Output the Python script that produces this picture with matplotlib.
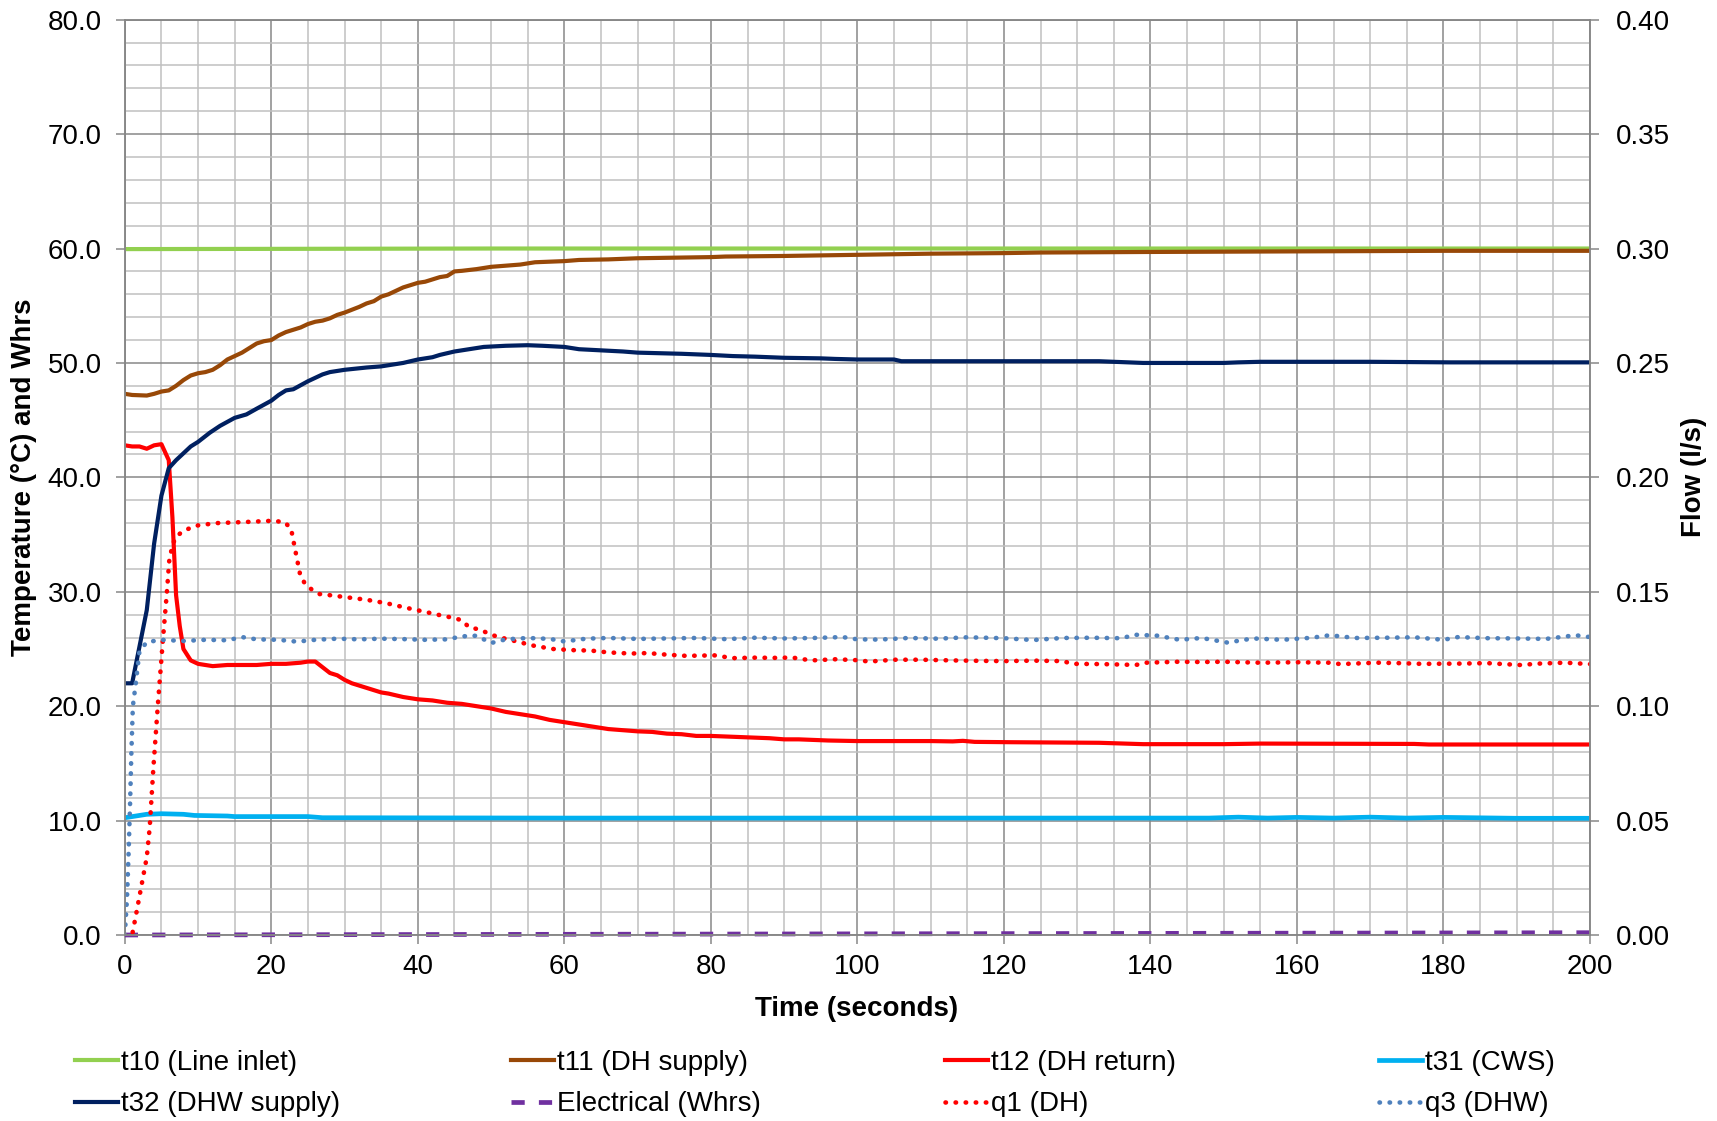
import matplotlib
matplotlib.use("Agg")
import matplotlib.pyplot as plt
from matplotlib.ticker import MultipleLocator, FormatStrFormatter

plt.rcParams['font.family'] = ['Liberation Sans', 'DejaVu Sans']

# ---------------- data ----------------
t10_time = [0, 50, 100, 150, 200]
t10_vals = [59.95, 60.0, 60.0, 60.0, 60.0]

t11_time = [0, 1, 3, 4, 5, 6, 7, 8, 9, 10, 11, 12, 13, 14, 15, 16, 17, 18, 19, 20,
            21, 22, 23, 24, 25, 26, 27, 28, 29, 30, 32, 33, 34, 35, 36, 37, 38, 39, 40,
            41, 42, 43, 44, 45, 46, 48, 50, 52, 54, 56, 58, 60, 62, 66, 70, 75, 80, 82,
            90, 100, 105, 110, 120, 125, 140, 160, 180, 200]
t11_vals = [47.3, 47.2, 47.15, 47.3, 47.5, 47.6, 48.0, 48.5, 48.9, 49.1, 49.2, 49.4, 49.8,
            50.3, 50.6, 50.9, 51.3, 51.7, 51.9, 52.0, 52.4, 52.7, 52.9, 53.1, 53.4, 53.6,
            53.7, 53.9, 54.2, 54.4, 54.9, 55.2, 55.4, 55.8, 56.0, 56.3, 56.6, 56.8, 57.0,
            57.1, 57.3, 57.5, 57.6, 58.0, 58.05, 58.2, 58.4, 58.5, 58.6, 58.8, 58.85, 58.9,
            59.0, 59.05, 59.15, 59.2, 59.25, 59.3, 59.35, 59.45, 59.5, 59.55, 59.6, 59.65,
            59.7, 59.75, 59.8, 59.8]

t12_time = [0, 1, 2, 3, 4, 5, 6, 6.5, 7, 7.5, 8, 9, 10, 12, 14, 16, 18, 20, 22, 24, 25,
            26, 27, 28, 29, 30, 31, 32, 34, 35, 36, 38, 40, 42, 44, 46, 48, 50, 52, 54, 56,
            58, 60, 62, 64, 66, 68, 70, 72, 74, 76, 78, 80, 82, 84, 86, 88, 90, 92, 94, 96,
            100, 110, 113, 114.4, 116, 121, 133, 139, 150, 155, 176, 178, 200]
t12_vals = [42.8, 42.7, 42.7, 42.5, 42.8, 42.9, 41.5, 36.5, 29.7, 27.0, 25.0, 24.0, 23.7,
            23.5, 23.6, 23.6, 23.6, 23.7, 23.7, 23.8, 23.9, 23.9, 23.4, 22.9, 22.7, 22.3,
            22.0, 21.8, 21.4, 21.2, 21.1, 20.8, 20.6, 20.5, 20.3, 20.2, 20.0, 19.8, 19.5,
            19.3, 19.1, 18.8, 18.6, 18.4, 18.2, 18.0, 17.9, 17.8, 17.75, 17.6, 17.55, 17.4,
            17.4, 17.35, 17.3, 17.25, 17.2, 17.1, 17.1, 17.05, 17.0, 16.95, 16.95, 16.92,
            16.97, 16.88, 16.85, 16.8, 16.68, 16.68, 16.73, 16.7, 16.65, 16.65]

t31_time = [0, 2, 3, 5, 8, 9.5, 14, 15, 25, 27, 60, 100, 148, 152, 156, 160, 165, 170,
            175, 180, 190, 200]
t31_vals = [10.25, 10.45, 10.55, 10.6, 10.55, 10.45, 10.4, 10.35, 10.35, 10.25, 10.22,
            10.22, 10.22, 10.3, 10.22, 10.28, 10.22, 10.3, 10.22, 10.28, 10.2, 10.2]

t32_time = [0, 1, 2, 3, 4, 5, 6, 7, 9, 10, 11.6, 13, 15, 16.6, 18, 20, 21, 22, 23, 25, 26,
            27, 28, 30, 33, 35, 36, 38, 40, 42, 43, 45, 47, 49, 52, 55, 57, 60, 62, 65, 68,
            70, 73, 76, 80, 83, 86, 90, 95, 97, 100, 105, 106, 120, 133, 135, 139, 150,
            152, 155, 170, 181, 200]
t32_vals = [22.0, 22.0, 25.2, 28.4, 34.2, 38.4, 40.8, 41.5, 42.7, 43.1, 43.9, 44.5, 45.2,
            45.5, 46.0, 46.7, 47.2, 47.6, 47.7, 48.4, 48.7, 49.0, 49.2, 49.4, 49.6, 49.7,
            49.8, 50.0, 50.3, 50.5, 50.7, 51.0, 51.2, 51.4, 51.5, 51.55, 51.5, 51.4, 51.2,
            51.1, 51.0, 50.9, 50.85, 50.8, 50.7, 50.6, 50.55, 50.45, 50.4, 50.35, 50.3,
            50.3, 50.15, 50.15, 50.15, 50.1, 50.0, 50.0, 50.05, 50.1, 50.1, 50.05, 50.05]

elec_time = [0, 50, 100, 150, 200]
elec_vals = [0.0, 0.05, 0.1, 0.15, 0.2]

q1_time = [0, 1, 1.6, 2.3, 3, 3.4, 3.9, 4.5, 5.2, 5.7, 6.1, 6.8, 7.7, 9, 10, 12.5, 16.5,
           20, 21.8, 22.7, 23.4, 23.9, 24.5, 25.5, 26.6, 28, 30.5, 33, 35.7, 38.4, 41,
           43.4, 45, 46, 47, 48.4, 49.5, 50.7, 53.2, 55.7, 58.4, 61, 63.6, 66, 69, 71.4,
           74, 76.6, 80.5, 83, 86, 89.4, 91, 93.7, 97, 100, 101.6, 105, 108.7, 113, 117,
           120, 124, 128, 129.4, 133, 136, 138, 139.4, 143.7, 147, 150, 155, 160, 164.4,
           165.9, 171, 174, 177, 182, 186, 190.5, 193, 196.6, 200]
q1_vals = [0.0, 0.0, 0.01, 0.022, 0.034, 0.047, 0.073, 0.10, 0.129, 0.148, 0.165, 0.173,
           0.176, 0.178, 0.179, 0.180, 0.1805, 0.181, 0.1805, 0.1775, 0.166, 0.158, 0.154,
           0.151, 0.149, 0.1485, 0.1475, 0.1465, 0.145, 0.143, 0.1412, 0.1395, 0.1385,
           0.1375, 0.1345, 0.1335, 0.132, 0.1305, 0.1285, 0.1265, 0.125, 0.1245, 0.1243,
           0.1235, 0.123, 0.1232, 0.1225, 0.122, 0.1222, 0.121, 0.1212, 0.1211, 0.1213,
           0.12, 0.1205, 0.1201, 0.1195, 0.1203, 0.1203, 0.12, 0.1198, 0.1197, 0.1199,
           0.1197, 0.1185, 0.1184, 0.1182, 0.118, 0.119, 0.1194, 0.1193, 0.1194, 0.119,
           0.1192, 0.119, 0.1184, 0.119, 0.1188, 0.1185, 0.1186, 0.1188, 0.118, 0.1186,
           0.119, 0.1184]

q3_time = [0, 0.3, 0.5, 0.7, 0.9, 1.1, 1.5, 2, 3, 5, 8, 11, 14, 16, 18, 21, 23.5, 26, 29,
           32, 35, 38, 41, 44, 46, 48, 50, 52, 55, 58, 60, 63, 66, 70, 74, 78, 82, 86, 90,
           94, 98, 100, 103, 107, 111, 115, 120, 124, 128, 132, 136, 138, 141, 144, 147,
           150.5, 154, 158, 162, 164.5, 168, 172, 176, 180, 182, 186, 190, 194, 198, 200]
q3_vals = [0.0, 0.016, 0.034, 0.055, 0.08, 0.10, 0.11, 0.124, 0.128, 0.129, 0.1285, 0.129,
           0.1288, 0.1302, 0.1292, 0.129, 0.1282, 0.129, 0.1295, 0.1292, 0.1295, 0.1293,
           0.129, 0.1292, 0.1305, 0.1308, 0.1276, 0.1292, 0.1298, 0.1294, 0.1283, 0.1295,
           0.1298, 0.1294, 0.1296, 0.1298, 0.1293, 0.1299, 0.1296, 0.1298, 0.1302, 0.1292,
           0.1291, 0.1298, 0.1295, 0.1301, 0.1297, 0.1289, 0.1298, 0.1299, 0.1297, 0.1312,
           0.1308, 0.129, 0.1298, 0.1278, 0.1296, 0.129, 0.1299, 0.131, 0.1298, 0.1299,
           0.1301, 0.129, 0.1302, 0.1297, 0.1296, 0.1294, 0.131, 0.1302]

x_ticks = list(range(0, 201, 20))

# ---------------- styling ----------------
C_MAJ = '#878787'
C_MIN = '#C0C0C0'
FS = 20

fig = plt.figure(figsize=(17.17, 11.21), dpi=100)
ax = fig.add_axes([124.8 / 1717, 1 - 935 / 1121, (1590 - 124.8) / 1717, (935 - 19.7) / 1121])
ax2 = ax.twinx()

ax.set_xlim(0, 200)
ax.set_ylim(0, 80)
ax2.set_ylim(0, 0.40)

ax.xaxis.set_major_locator(MultipleLocator(20))
ax.xaxis.set_minor_locator(MultipleLocator(5))
ax.yaxis.set_major_locator(MultipleLocator(10))
ax.yaxis.set_minor_locator(MultipleLocator(2))
ax2.yaxis.set_major_locator(MultipleLocator(0.05))
ax.yaxis.set_major_formatter(FormatStrFormatter('%.1f'))
ax2.yaxis.set_major_formatter(FormatStrFormatter('%.2f'))
ax.set_xticks(x_ticks)

ax.set_axisbelow(True)
ax.grid(which='minor', color=C_MIN, linewidth=1.1)
ax.grid(which='major', color=C_MAJ, linewidth=1.1)

for a in (ax, ax2):
    for s in a.spines.values():
        s.set_color(C_MAJ)
        s.set_linewidth(1.1)

ax.tick_params(which='major', direction='out', length=6.5, width=1.1, color=C_MAJ,
               labelsize=FS)
ax.tick_params(axis='y', which='major', pad=10)
ax.tick_params(axis='x', which='major', pad=7)
ax.tick_params(which='minor', length=0)
ax2.tick_params(which='major', direction='out', length=6.5, width=1.1, color=C_MAJ,
                labelsize=FS, pad=12)
ax2.tick_params(which='minor', length=0)

LW = 3.0
DLW = 3.3
DOT = (0, (0.1, 2.1))
ax.plot(t10_time, t10_vals, color='#92D050', lw=LW, label='t10 (Line inlet)')
ax.plot(t11_time, t11_vals, color='#984807', lw=LW, label='t11 (DH supply)')
ax.plot(t12_time, t12_vals, color='#FF0000', lw=LW, label='t12 (DH return)')
ax.plot(t31_time, t31_vals, color='#00B0F0', lw=3.4, label='t31 (CWS)')
ax.plot(t32_time, t32_vals, color='#002060', lw=LW, label='t32 (DHW supply)')
ax.plot(elec_time, elec_vals, color='#7030A0', lw=3.4, linestyle=(0, (2.8, 3.0)),
        label='Electrical (Whrs)', clip_on=False)
ax2.plot(q1_time, q1_vals, color='#FF0000', lw=DLW, linestyle=DOT,
         dash_capstyle='round', label='q1 (DH)')
ax2.plot(q3_time, q3_vals, color='#4F81BD', lw=DLW, linestyle=DOT,
         dash_capstyle='round', label='q3 (DHW)')

# axis titles
fig.text(857 / 1717, 1 - 1009 / 1121, 'Time (seconds)', ha='center', va='center',
         fontsize=FS, fontweight='bold')
fig.text(24 / 1717, 1 - 477 / 1121, 'Temperature (°C) and Whrs', ha='center',
         va='center', rotation=90, fontsize=FS, fontweight='bold')
fig.text(1694 / 1717, 1 - 477 / 1121, 'Flow (l/s)', ha='center', va='center',
         rotation=90, fontsize=FS, fontweight='bold')

# legend: four columns of two entries
h1, l1 = ax.get_legend_handles_labels()
h2, l2 = ax2.get_legend_handles_labels()
hd = dict(zip(l1 + l2, h1 + h2))
columns = [['t10 (Line inlet)', 't32 (DHW supply)'],
           ['t11 (DH supply)', 'Electrical (Whrs)'],
           ['t12 (DH return)', 'q1 (DH)'],
           ['t31 (CWS)', 'q3 (DHW)']]
col_x = [75, 511, 945, 1379]
for cx, labs in zip(col_x, columns):
    fig.legend([hd[l] for l in labs], labs, loc='upper left',
               bbox_to_anchor=(cx / 1717, 1 - 1050 / 1121), frameon=False,
               fontsize=FS, handlelength=1.55, handletextpad=0.1, borderpad=0,
               borderaxespad=0, labelspacing=0.55)

fig.savefig('out.png', dpi=100)
